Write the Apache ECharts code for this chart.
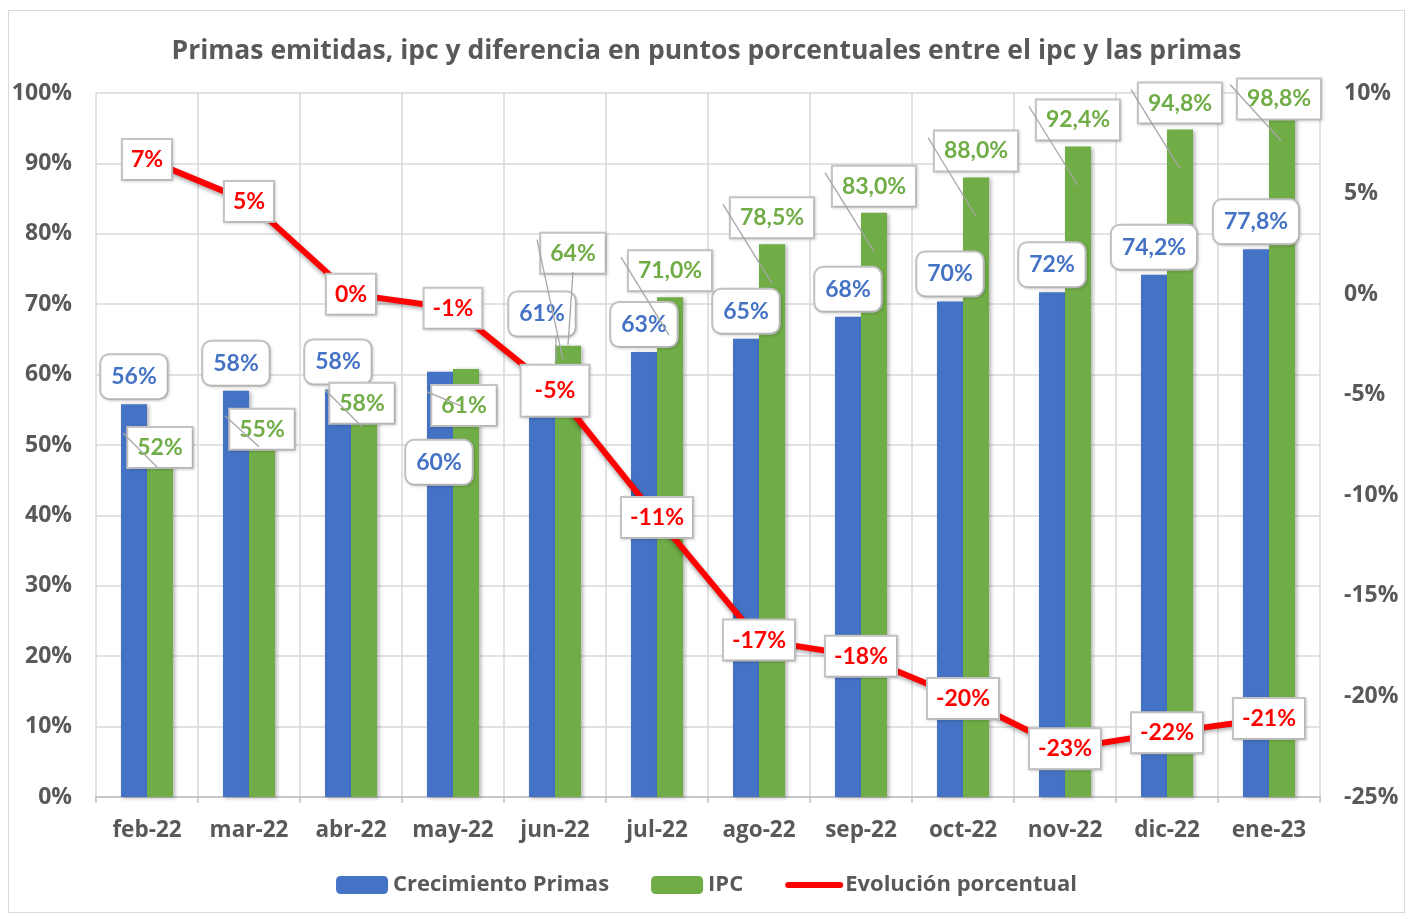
<!DOCTYPE html>
<html>
<head>
<meta charset="utf-8">
<script src="https://cdn.jsdelivr.net/npm/echarts@6/dist/echarts.min.js"></script>
<style>
html,body{margin:0;padding:0;background:#fff;}
#frame{position:absolute;left:8px;top:10px;width:1395px;height:901px;border:1px solid #d9d9d9;}
#main{position:absolute;left:0;top:0;width:1413px;height:914px;}
</style>
</head>
<body>
<div id="frame"></div>
<div id="main"></div>
<script>
// ---- data ----
const categories = ['feb-22','mar-22','abr-22','may-22','jun-22','jul-22','ago-22','sep-22','oct-22','nov-22','dic-22','ene-23'];
const primas = [55.8, 57.7, 57.9, 60.4, 61.0, 63.2, 65.1, 68.2, 70.4, 71.7, 74.2, 77.8];
const ipc = [52.0, 55.0, 58.0, 60.8, 64.1, 71.0, 78.5, 83.0, 88.0, 92.4, 94.8, 98.8];
const evolucion = [6.7, 4.6, 0.0, -0.7, -4.8, -11.1, -17.2, -18.0, -20.1, -22.6, -21.8, -21.1];
const primasDecimals = [0,0,0,0,0,0,0,0,0,0,1,1];
const ipcDecimals = [0,0,0,0,0,1,1,1,1,1,1,1];
const seriesNames = ['Crecimiento Primas', 'IPC', 'Evolución porcentual'];
const titleText = 'Primas emitidas, ipc y diferencia en puntos porcentuales entre el ipc y las primas';

// ---- label layout (pixel shifts of the moved data labels) ----
const primasLabelShift = [[0,0],[0,0],[0,0],[-1,118],[0,-26],[0,0],[0,0],[0,0],[0,0],[0,0],[0,0],[0,0]];
const ipcLabelShift = [[0,43],[0,46],[-2,41],[-2,63],[5,-66],[0,0],[0,0],[0,0],[0,0],[0,0],[0,0],[-3,24]];
// leader lines, pixel offsets relative to bar top-centre
const ipcLeaders = [
  [[-37,2,-3,36]], [[-37,6,-3,37]], [[-39,1,-2,38]], [[-39,23,-5,37]],
  [[5,-74,0,-1],[-31,-106,-5,14]], [[-49,-40,-1,38]], [[-49,-40,0,39]], [[-49,-40,0,39]],
  [[-48,-40,0,39]], [[-49,-40,0,39]], [[-49,-40,0,39]], [[-52,-17,-1,39]]
];
const primasLeaders = [[],[],[],[],[[14,-32,14,-6]],[],[],[],[],[],[],[]];

const FONT = 'Lato';
const TFONT = 'Open Sans';
const GREY = '#595959';
const BLUE = '#4472c4', GREEN = '#70ad47', RED = '#ff0000';
const BAR_W = 26;

function fmt(v, d) { return v.toFixed(d).replace('.', ',') + '%'; }

const chart = echarts.init(document.getElementById('main'), null, {renderer: 'canvas'});

const boxBase = {
  show: true, fontFamily: FONT, fontWeight: 'bold', fontSize: 23,
  backgroundColor: '#fff', borderColor: '#c4c4c4', borderWidth: 2,
  shadowColor: 'rgba(0,0,0,0.15)', shadowBlur: 3, shadowOffsetX: 1, shadowOffsetY: 1
};

const option = {
  animation: false,
  title: {
    text: titleText, left: 'center', top: 33,
    textStyle: {fontFamily: TFONT, fontWeight: 'bold', fontSize: 26.5, color: GREY}
  },
  legend: {
    data: [
      {name: seriesNames[0]},
      {name: seriesNames[1]},
      {name: seriesNames[2], itemStyle: {opacity: 0}, lineStyle: {width: 6, cap: 'round', color: RED, shadowBlur: 0}}
    ],
    left: 'center', top: 869, itemWidth: 52, itemHeight: 18, itemGap: 42,
    textStyle: {fontFamily: TFONT, fontWeight: 'bold', fontSize: 22, color: GREY}
  },
  grid: {left: 96, right: 93, top: 93, bottom: 117, containLabel: false},
  xAxis: {
    type: 'category', data: categories, boundaryGap: true,
    axisLine: {lineStyle: {color: '#bfbfbf', width: 1.5}},
    axisTick: {show: true, interval: 0, length: 6, lineStyle: {color: '#bfbfbf', width: 1.5}},
    splitLine: {show: true, interval: 0, lineStyle: {color: '#d9d9d9', width: 1.5}},
    axisLabel: {interval: 0, hideOverlap: false, fontFamily: TFONT, fontWeight: 'bold', fontSize: 22.5, color: GREY, margin: 22}
  },
  yAxis: [
    {
      type: 'value', min: 0, max: 100, interval: 10,
      axisLine: {show: false}, axisTick: {show: false},
      splitLine: {lineStyle: {color: '#d9d9d9', width: 1.5}},
      axisLabel: {formatter: '{value}%', fontFamily: TFONT, fontWeight: 'bold', fontSize: 23, color: GREY, margin: 24}
    },
    {
      type: 'value', min: -25, max: 10, interval: 5, position: 'right',
      axisLine: {show: false}, axisTick: {show: false}, splitLine: {show: false},
      axisLabel: {formatter: '{value}%', fontFamily: TFONT, fontWeight: 'bold', fontSize: 23, color: GREY, margin: 24, align: 'left'}
    }
  ],
  series: [
    {
      name: seriesNames[0], type: 'bar', barWidth: BAR_W, barGap: '0%',
      itemStyle: {color: BLUE, shadowColor: 'rgba(0,0,0,0.3)', shadowBlur: 4, shadowOffsetX: 2, shadowOffsetY: 1},
      data: primas.map((v, i) => ({
        value: v,
        label: Object.assign({}, boxBase, {
          position: 'top', distance: 6, offset: primasLabelShift[i],
          color: BLUE, borderRadius: 8, padding: [10, 10, 10, 10],
          formatter: () => fmt(v, primasDecimals[i])
        })
      })),
      z: 2
    },
    {
      name: seriesNames[1], type: 'bar', barWidth: BAR_W, barGap: '0%',
      itemStyle: {color: GREEN, shadowColor: 'rgba(0,0,0,0.3)', shadowBlur: 4, shadowOffsetX: 2, shadowOffsetY: 1},
      data: ipc.map((v, i) => ({
        value: v,
        label: Object.assign({}, boxBase, {
          position: 'top', distance: 7, offset: ipcLabelShift[i],
          color: GREEN, borderRadius: 0, padding: [8, 9, 8, 9],
          formatter: () => fmt(v, ipcDecimals[i])
        })
      })),
      z: 2
    },
    {
      name: seriesNames[2], type: 'line', yAxisIndex: 1,
      symbol: 'circle', symbolSize: 2, showSymbol: true,
      itemStyle: {color: RED},
      lineStyle: {color: RED, width: 6, shadowColor: 'rgba(0,0,0,0.35)', shadowBlur: 4, shadowOffsetY: 2},
      data: evolucion.map((v, i) => ({
        value: v,
        label: Object.assign({}, boxBase, {
          position: 'inside', color: RED, borderRadius: 0,
          padding: i === 4 ? [14, 13, 13, 13] : [8, 8, 8, 8],
          formatter: () => Math.round(v) + '%'
        })
      })),
      z: 4
    },
    {
      name: 'leaders', type: 'custom', yAxisIndex: 0, silent: true, z: 6,
      data: categories.map((c, i) => [i, ipc[i], primas[i]]),
      renderItem: function (params, api) {
        const i = api.value(0);
        const g = api.coord([i, api.value(1)]);
        const b = api.coord([i, api.value(2)]);
        const gx = g[0] + BAR_W / 2, bx = b[0] - BAR_W / 2;
        const children = [];
        ipcLeaders[i].forEach(s => children.push({
          type: 'line', shape: {x1: gx + s[0], y1: g[1] + s[1], x2: gx + s[2], y2: g[1] + s[3]},
          style: {stroke: '#a6a6a6', lineWidth: 1.3}
        }));
        primasLeaders[i].forEach(s => children.push({
          type: 'line', shape: {x1: bx + s[0], y1: b[1] + s[1], x2: bx + s[2], y2: b[1] + s[3]},
          style: {stroke: '#a6a6a6', lineWidth: 1.3}
        }));
        return {type: 'group', children: children};
      }
    }
  ]
};
chart.setOption(option);
</script>
</body>
</html>
